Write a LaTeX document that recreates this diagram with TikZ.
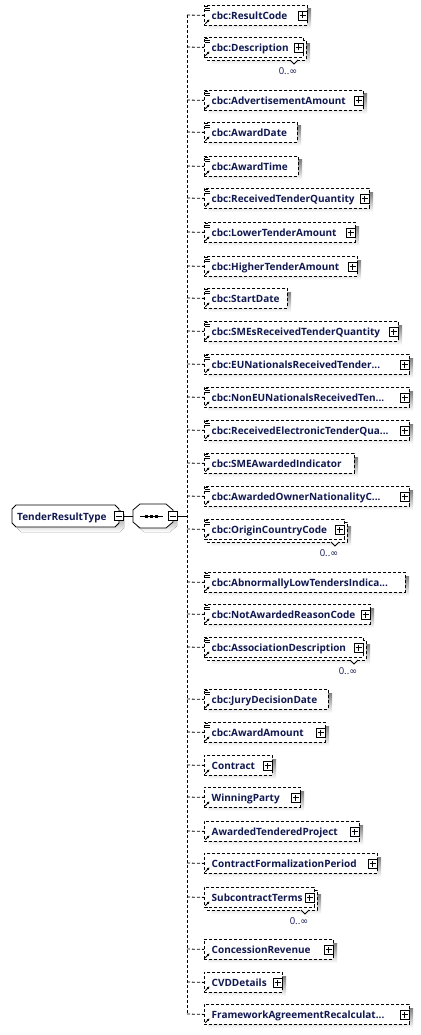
\documentclass[tikz,border=0pt]{standalone}
\usepackage{fontspec}
\setmainfont{Open Sans}
\newfontfamily\symfont{DejaVu Sans}
\usetikzlibrary{arrows.meta}
\definecolor{navy}{RGB}{16,24,80}
\definecolor{shade}{RGB}{192,192,192}
\tikzset{
  conn/.style={line width=0.8pt, dash pattern=on 3pt off 2pt},
  solidline/.style={line width=0.8pt},
  ebox/.style={draw, line width=0.8pt, dash pattern=on 3pt off 2pt, fill=white, anchor=north west, minimum height=20pt, inner sep=0pt},
  backbox/.style={draw, line width=0.8pt, dash pattern=on 3pt off 2pt, fill=white},
  etext/.style={anchor=base west, inner sep=0pt, text=navy, font=\fontsize{10}{12}\selectfont\bfseries},
  occ/.style={inner sep=0pt, text=navy, font=\fontsize{9.5}{11}\selectfont},
  pbox/.style={draw, fill=white, line width=0.8pt, minimum size=9pt, inner sep=0pt},
  refarrow/.style={line width=1pt, -{Latex[length=2.6pt,width=2.8pt]}},
}
\newcommand\elemrow[7]{%
  \ifnum#7=1
    \fill[shade] (211,#2-3) rectangle (#3+4,#2+17);
    \draw[backbox] (207,#2-7) rectangle (#3,#2+13);
    \node[ebox, minimum width={(#3-207)*1pt}] (#1) at (204,#2-10) {};
    \coordinate (#1n) at (#3-12,#2+13);
    \draw[solidline, fill=white] ([xshift=-4pt]#1n) -- ([yshift=-4pt]#1n) -- ([xshift=4pt]#1n);
    \node[occ] (#1o) at (#3-18,#2+24) {0..{\symfont ∞}};
    \def\pr{#3-3}%
  \else
    \fill[shade] (208,#2-6) rectangle (#3+4,#2+14);
    \node[ebox, minimum width={(#3-204)*1pt}] (#1) at (204,#2-10) {};
    \def\pr{#3}%
  \fi
  \coordinate (#1c) at (187,#2);
  \draw[conn] (#1c) -- (#1.west);
  \node[etext] (#1t) at (211.5,#2+4.5) {#4};
  \ifnum#5=1
    \draw[line width=0.7pt] (205,#2-8.3) -- (208,#2-8.3) (205,#2-6.5) -- (209.5,#2-6.5) (205,#2-4.7) -- (209.5,#2-4.7);
  \fi
  \draw[refarrow] (205.3,#2+8.7) -- (209.6,#2+4.4);
  \ifnum#6=1
    \node[pbox] (#1p) at (\pr-4.5,#2+0.5) {};
    \draw[solidline] ([xshift=-3pt]#1p.center) -- ([xshift=3pt]#1p.center) ([yshift=-3pt]#1p.center) -- ([yshift=3pt]#1p.center);
  \fi
}
\begin{document}
\begin{tikzpicture}[x=1pt,y=-1pt]
\useasboundingbox[fill=white] (0,0) rectangle (420,1035);

% main type box
\fill[shade] (21,510) -- (120,510) -- (124,514) -- (124,528) -- (120,532) -- (21,532) -- (17,528) -- (17,514) -- cycle;
\draw[solidline, fill=white] (16,505) -- (115,505) -- (119,509) -- (119,523) -- (115,527) -- (16,527) -- (12,523) -- (12,509) -- cycle;
\node[etext] (typetext) at (17,520.5) {TenderResultType};
\node[pbox] (typeminus) at (118.5,516) {};
\draw[solidline] ([xshift=-3pt]typeminus.center) -- ([xshift=3pt]typeminus.center);

% sequence compositor
\fill[shade] (144,508) -- (170,508) -- (177,514) -- (177,526) -- (170,532) -- (144,532) -- (137,526) -- (137,514) -- cycle;
\draw[solidline, fill=white] (140,504) -- (166,504) -- (173,510) -- (173,522) -- (166,528) -- (140,528) -- (133,522) -- (133,510) -- cycle;
\coordinate (seqwest) at (133,516);
\draw[solidline] (140,516) -- (163,516);
\fill (144.5,514.5) rectangle (147.5,517.5);
\fill (149.5,514.5) rectangle (152.5,517.5);
\fill (154.5,514.5) rectangle (157.5,517.5);
\node[pbox] (seqminus) at (172.5,516) {};
\draw[solidline] ([xshift=-3pt]seqminus.center) -- ([xshift=3pt]seqminus.center);
\draw[solidline] (typeminus.east) -- (seqwest);
\coordinate (trunkmid) at (187,516);
\draw[solidline] (seqminus.east) -- (trunkmid);

% elements: name, y, right, text, cbc-icon, plus, multi
\elemrow{r1}{15}{307}{cbc:ResultCode}{1}{1}{0}
\elemrow{r2}{47}{306}{cbc:Description}{1}{1}{1}
\elemrow{r3}{100}{363}{cbc:AdvertisementAmount}{1}{1}{0}
\elemrow{r4}{132}{297}{cbc:AwardDate}{1}{0}{0}
\elemrow{r5}{166}{298}{cbc:AwardTime}{1}{0}{0}
\elemrow{r6}{198}{369}{cbc:ReceivedTenderQuantity}{1}{1}{0}
\elemrow{r7}{232}{355}{cbc:LowerTenderAmount}{1}{1}{0}
\elemrow{r8}{266}{357}{cbc:HigherTenderAmount}{1}{1}{0}
\elemrow{r9}{298}{287}{cbc:StartDate}{1}{0}{0}
\elemrow{r10}{331}{398}{cbc:SMEsReceivedTenderQuantity}{1}{1}{0}
\elemrow{r11}{364}{409}{cbc:EUNationalsReceivedTender...}{1}{1}{0}
\elemrow{r12}{397}{409}{cbc:NonEUNationalsReceivedTen...}{1}{1}{0}
\elemrow{r13}{430}{409}{cbc:ReceivedElectronicTenderQua...}{1}{1}{0}
\elemrow{r14}{463}{354}{cbc:SMEAwardedIndicator}{1}{0}{0}
\elemrow{r15}{496}{409}{cbc:AwardedOwnerNationalityC...}{1}{1}{0}
\elemrow{r16}{529}{347}{cbc:OriginCountryCode}{1}{1}{1}
\elemrow{r17}{582}{405}{cbc:AbnormallyLowTendersIndica...}{1}{0}{0}
\elemrow{r18}{614}{370}{cbc:NotAwardedReasonCode}{1}{1}{0}
\elemrow{r19}{647}{366}{cbc:AssociationDescription}{1}{1}{1}
\elemrow{r20}{699}{328}{cbc:JuryDecisionDate}{1}{0}{0}
\elemrow{r21}{732}{325}{cbc:AwardAmount}{1}{1}{0}
\elemrow{r22}{765}{272}{Contract}{0}{1}{0}
\elemrow{r23}{797}{300}{WinningParty}{0}{1}{0}
\elemrow{r24}{831}{359}{AwardedTenderedProject}{0}{1}{0}
\elemrow{r25}{863}{377}{ContractFormalizationPeriod}{0}{1}{0}
\elemrow{r26}{897}{317}{SubcontractTerms}{0}{1}{1}
\elemrow{r27}{949}{333}{ConcessionRevenue}{0}{1}{0}
\elemrow{r28}{982}{282}{CVDDetails}{0}{1}{0}
\elemrow{r29}{1014}{409}{FrameworkAgreementRecalculat...}{0}{1}{0}

% trunk
\draw[conn] (r1c) -- (r29c);
\end{tikzpicture}
\end{document}
